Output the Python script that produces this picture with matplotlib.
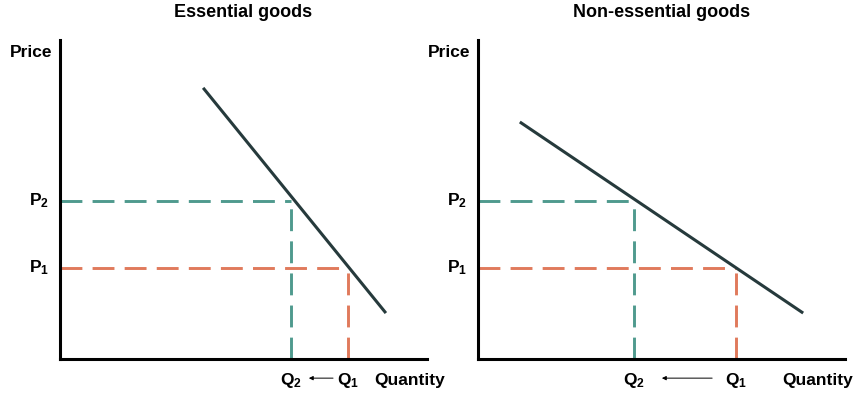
import numpy as np
import matplotlib
matplotlib.use('Agg')
import matplotlib.pyplot as plt

plt.rcParams['font.family'] = ['Liberation Sans', 'DejaVu Sans']
plt.rcParams['mathtext.fontset'] = 'custom'
plt.rcParams['mathtext.bf'] = 'Liberation Sans:bold'
plt.rcParams['mathtext.rm'] = 'Liberation Sans'

# data (axis units 0-10)
titles = ['Essential goods', 'Non-essential goods']
demand_q = [[3.90, 8.88], [1.14, 8.86]]
demand_p = [[8.50, 1.44], [7.43, 1.44]]
price_1 = [2.85, 2.85]
price_2 = [4.95, 4.95]
qty_1 = [7.85, 7.03]
qty_2 = [6.29, 4.25]
# arrow Q1 -> Q2 (start, end) in axis units
arrow_q = [[7.44, 6.78], [6.38, 5.01]]
quantity_x = [9.54, 9.26]

teal = '#4f9a8e'
orange = '#e07a5c'
dark = '#263a3c'

fig = plt.figure(figsize=(8.63, 3.98), dpi=100)
W, H = 863, 398
lefts = [60, 478]
fs = 12.5

for i in range(2):
    ax = fig.add_axes([lefts[i] / W, (H - 359) / H, 367 / W, 319 / H])
    ax.set_xlim(0, 10)
    ax.set_ylim(0, 10)
    for s in ['top', 'right']:
        ax.spines[s].set_visible(False)
    for s in ['left', 'bottom']:
        ax.spines[s].set_linewidth(2.2)
        ax.spines[s].set_color('black')
    ax.set_xticks([])
    ax.set_yticks([])

    # dashed guides
    ax.plot([0, qty_2[i]], [price_2[i], price_2[i]], color=teal, lw=2.1, dashes=(7.5, 3.5))
    ax.plot([qty_2[i], qty_2[i]], [0, price_2[i]], color=teal, lw=2.1, dashes=(7.5, 3.5))
    ax.plot([0, qty_1[i]], [price_1[i], price_1[i]], color=orange, lw=2.1, dashes=(7.5, 3.5))
    ax.plot([qty_1[i], qty_1[i]], [0, price_1[i]], color=orange, lw=2.1, dashes=(7.5, 3.5))

    # demand curve
    ax.plot(demand_q[i], demand_p[i], color=dark, lw=2.2, solid_capstyle='butt')

    ax.text(0.5, 1.085, titles[i], transform=ax.transAxes, ha='center', va='center',
            fontsize=13, fontweight='bold')
    ax.text(-0.22, 9.62, 'Price', ha='right', va='center', fontsize=fs,
            fontweight='bold', clip_on=False)
    ax.text(-0.3, price_2[i], r'$\mathbf{P_2}$', ha='right', va='center', fontsize=fs, clip_on=False)
    ax.text(-0.3, price_1[i], r'$\mathbf{P_1}$', ha='right', va='center', fontsize=fs, clip_on=False)
    ax.text(qty_2[i], -0.66, r'$\mathbf{Q_2}$', ha='center', va='center', fontsize=fs, clip_on=False)
    ax.text(qty_1[i], -0.66, r'$\mathbf{Q_1}$', ha='center', va='center', fontsize=fs, clip_on=False)
    ax.text(quantity_x[i], -0.66, 'Quantity', ha='center', va='center', fontsize=fs,
            fontweight='bold', clip_on=False)
    ax.annotate('', xy=(arrow_q[i][1], -0.6), xytext=(arrow_q[i][0], -0.6),
                arrowprops=dict(arrowstyle='-|>', color='black', lw=0.7,
                                mutation_scale=6, shrinkA=0, shrinkB=0),
                annotation_clip=False)

fig.savefig('out.png', dpi=100)
